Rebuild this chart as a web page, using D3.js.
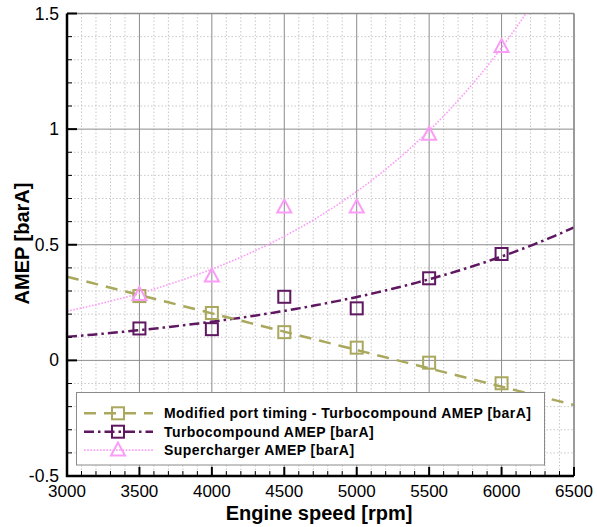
<!DOCTYPE html>
<html>
<head>
<meta charset="utf-8">
<script src="https://cdn.jsdelivr.net/npm/d3@7"></script>
<style>
  body { margin: 0; background: #fff; }
  svg { display: block; font-family: 'Liberation Sans', Arial, sans-serif; }
</style>
</head>
<body>
<svg width="597" height="527"></svg>
<script>
// engine speed [rpm]
const speeds = [3500, 4000, 4500, 5000, 5500, 6000];
// AMEP [barA]
const portTiming = [0.278, 0.205, 0.122, 0.055, -0.01, -0.099];
const turbocompound = [0.138, 0.135, 0.275, 0.225, 0.355, 0.46];
const supercharger = [0.285, 0.365, 0.663, 0.663, 0.978, 1.357];
// trend line values at 3000 and 6500 rpm
const portTrend = [0.362, -0.193]; // linear
const turboTrend = [0.102, 0.575]; // exponential
const superTrend = [0.213, 1.84]; // exponential

const xTicks = [3000, 3500, 4000, 4500, 5000, 5500, 6000, 6500];
const yTicks = [-0.5, 0, 0.5, 1, 1.5];
const yTickLabels = ['-0.5', '0', '0.5', '1', '1.5'];

const svg = d3.select('svg');
const x = d3.scaleLinear().domain([3000, 6500]).range([67, 574]);
const y = d3.scaleLinear().domain([-0.5, 1.5]).range([476, 13.5]);
const [x0, x1] = x.range();
const [yb, yt] = y.range();

const olive = '#a9a85c';
const purple = '#5e1760';
const pink = '#fb9cf7';

svg.append('defs').append('clipPath').attr('id', 'plot')
  .append('rect')
  .attr('x', x0).attr('y', yt)
  .attr('width', x1 - x0).attr('height', yb - yt);

// minor grid
const grid = svg.append('g');
grid.selectAll('.vminor')
  .data(d3.range(3100, 6500, 100).filter((d) => d % 500 !== 0))
  .enter().append('line')
  .attr('x1', (d) => x(d)).attr('x2', (d) => x(d))
  .attr('y1', yt).attr('y2', yb)
  .attr('stroke', '#c8c8c8').attr('stroke-width', 1)
  .attr('stroke-dasharray', '1.5,2');
grid.selectAll('.hminor')
  .data(d3.range(-4, 15).map((d) => d / 10).filter((d) => Math.round(d * 10) % 5 !== 0))
  .enter().append('line')
  .attr('x1', x0).attr('x2', x1)
  .attr('y1', (d) => y(d)).attr('y2', (d) => y(d))
  .attr('stroke', '#c8c8c8').attr('stroke-width', 1)
  .attr('stroke-dasharray', '1.5,2');

// major grid
grid.selectAll('.vmajor')
  .data(xTicks.slice(1))
  .enter().append('line')
  .attr('x1', (d) => x(d)).attr('x2', (d) => x(d))
  .attr('y1', yt).attr('y2', yb)
  .attr('stroke', '#8c8c8c').attr('stroke-width', 1);
grid.selectAll('.hmajor')
  .data(yTicks.slice(1))
  .enter().append('line')
  .attr('x1', x0).attr('x2', x1)
  .attr('y1', (d) => y(d)).attr('y2', (d) => y(d))
  .attr('stroke', '#8c8c8c').attr('stroke-width', (d) => (d === 1.5 ? 1.5 : 1));

// trend lines
const samples = d3.range(0, 1.0001, 0.01);
function linTrend([a, b]) {
  return samples.map((t) => [3000 + 3500 * t, a + (b - a) * t]);
}
function expTrend([a, b]) {
  return samples.map((t) => [3000 + 3500 * t, a * Math.pow(b / a, t)]);
}
const line = d3.line().x((d) => x(d[0])).y((d) => y(d[1]));
const trends = svg.append('g').attr('clip-path', 'url(#plot)');
trends.append('path')
  .attr('d', line(expTrend(superTrend)))
  .attr('fill', 'none').attr('stroke', pink)
  .attr('stroke-width', 1.6).attr('stroke-dasharray', '1.6,1.6');
trends.append('path')
  .attr('d', line(expTrend(turboTrend)))
  .attr('fill', 'none').attr('stroke', purple)
  .attr('stroke-width', 2.5).attr('stroke-dasharray', '10,4,2.5,4');
trends.append('path')
  .attr('d', line(linTrend(portTrend)))
  .attr('fill', 'none').attr('stroke', olive)
  .attr('stroke-width', 2.5).attr('stroke-dasharray', '12,8');

// markers
function squares(values, color) {
  svg.append('g').selectAll('rect')
    .data(values)
    .enter().append('rect')
    .attr('x', (d, i) => x(speeds[i]) - 6)
    .attr('y', (d) => y(d) - 6)
    .attr('width', 12).attr('height', 12)
    .attr('fill', 'none').attr('stroke', color).attr('stroke-width', 2);
}
const tri = 'M0,-7.5L7,5.5L-7,5.5Z';
squares(portTiming, olive);
squares(turbocompound, purple);
svg.append('g').selectAll('path')
  .data(supercharger)
  .enter().append('path')
  .attr('d', tri)
  .attr('transform', (d, i) => `translate(${x(speeds[i])},${y(d)})`)
  .attr('fill', 'none').attr('stroke', pink).attr('stroke-width', 2)
  .attr('stroke-linejoin', 'miter');

// frame: grey top/right, black axes left/bottom
svg.append('line').attr('x1', x1).attr('x2', x1).attr('y1', yt).attr('y2', yb)
  .attr('stroke', '#8c8c8c').attr('stroke-width', 1.5);

const axes = svg.append('g');
axes.selectAll('.xminor')
  .data(d3.range(3100, 6500, 100).filter((d) => d % 500 !== 0))
  .enter().append('line')
  .attr('x1', (d) => x(d)).attr('x2', (d) => x(d))
  .attr('y1', yb).attr('y2', yb - 5)
  .attr('stroke', '#000').attr('stroke-width', 1);
axes.selectAll('.xmajor')
  .data(xTicks)
  .enter().append('line')
  .attr('x1', (d) => x(d)).attr('x2', (d) => x(d))
  .attr('y1', yb).attr('y2', yb - 9)
  .attr('stroke', '#000').attr('stroke-width', 2);
axes.selectAll('.yminor')
  .data(d3.range(-4, 15).map((d) => d / 10).filter((d) => Math.round(d * 10) % 5 !== 0))
  .enter().append('line')
  .attr('x1', x0).attr('x2', x0 + 5)
  .attr('y1', (d) => y(d)).attr('y2', (d) => y(d))
  .attr('stroke', '#000').attr('stroke-width', 1);
axes.selectAll('.ymajor')
  .data(yTicks)
  .enter().append('line')
  .attr('x1', x0).attr('x2', x0 + 10)
  .attr('y1', (d) => y(d)).attr('y2', (d) => y(d))
  .attr('stroke', '#000').attr('stroke-width', 2);
axes.append('path')
  .attr('d', `M${x0},${yt}V${yb}H${x1}`)
  .attr('fill', 'none').attr('stroke', '#000').attr('stroke-width', 2.5);

// tick labels
svg.append('g').selectAll('text')
  .data(xTicks)
  .enter().append('text')
  .attr('x', (d) => x(d)).attr('y', yb + 21)
  .attr('text-anchor', 'middle')
  .attr('font-size', '17px')
  .text((d) => d);
svg.append('g').selectAll('text')
  .data(yTicks)
  .enter().append('text')
  .attr('x', x0 - 8).attr('y', (d) => y(d) + 6)
  .attr('text-anchor', 'end')
  .attr('font-size', '17.5px')
  .text((d, i) => yTickLabels[i]);

// axis titles
svg.append('text')
  .attr('x', 319).attr('y', 519.5)
  .attr('text-anchor', 'middle')
  .attr('font-size', '20px').attr('font-weight', 'bold')
  .text('Engine speed [rpm]');
svg.append('text')
  .attr('transform', 'translate(29,243.5) rotate(-90)')
  .attr('text-anchor', 'middle')
  .attr('font-size', '20px').attr('font-weight', 'bold')
  .text('AMEP [barA]');

// legend
const legendItems = [
  { label: 'Modified port timing - Turbocompound AMEP [barA]', color: olive, dash: '12,8', width: 2.5, mark: 'square' },
  { label: 'Turbocompound AMEP [barA]', color: purple, dash: '10,4,2.5,4', width: 2.5, mark: 'square' },
  { label: 'Supercharger AMEP [barA]', color: pink, dash: '1.6,1.6', width: 1.6, mark: 'tri' }
];
const legend = svg.append('g');
legend.append('rect')
  .attr('x', 76.5).attr('y', 392.5)
  .attr('width', 468).attr('height', 72.5)
  .attr('fill', '#fff').attr('stroke', '#8a8a8a').attr('stroke-width', 1);
const rows = legend.selectAll('.row')
  .data(legendItems)
  .enter().append('g')
  .attr('transform', (d, i) => `translate(0,${413.3 + i * 18.4})`);
rows.append('line')
  .attr('x1', 84).attr('x2', 153)
  .attr('stroke', (d) => d.color)
  .attr('stroke-width', (d) => d.width)
  .attr('stroke-dasharray', (d) => d.dash);
rows.filter((d) => d.mark === 'square').append('rect')
  .attr('x', 112).attr('y', -6).attr('width', 12).attr('height', 12)
  .attr('fill', 'none').attr('stroke', (d) => d.color).attr('stroke-width', 2);
rows.filter((d) => d.mark === 'tri').append('path')
  .attr('d', tri).attr('transform', 'translate(118,0)')
  .attr('fill', 'none').attr('stroke', (d) => d.color).attr('stroke-width', 2);
rows.append('text')
  .attr('x', 164).attr('y', 5)
  .attr('font-size', '14px').attr('font-weight', 'bold')
  .attr('letter-spacing', '0.45px')
  .text((d) => d.label);
</script>
</body>
</html>
